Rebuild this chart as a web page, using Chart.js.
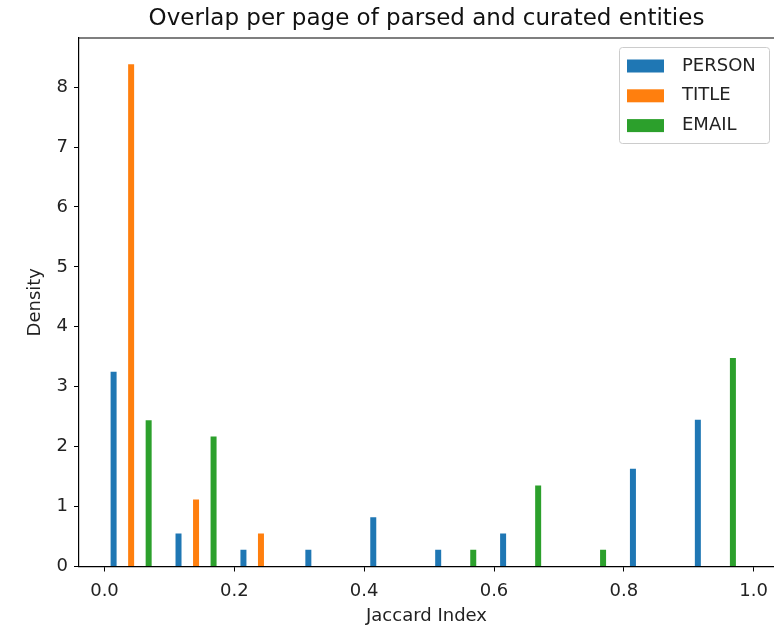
<!DOCTYPE html>
<html>
<head>
<meta charset="utf-8">
<script src="https://cdn.jsdelivr.net/npm/chart.js@4.4.1/dist/chart.umd.min.js"></script>
<style>
  html, body { margin: 0; padding: 0; background: #fff; }
  #wrap { width: 774px; height: 630px; }
</style>
</head>
<body>
<div id="wrap"><canvas id="hist" width="774" height="630"></canvas></div>
<script>
// left edge of each histogram bin (Jaccard index, bins of 0.1)
const binStarts = [0.0, 0.1, 0.2, 0.3, 0.4, 0.5, 0.6, 0.7, 0.8, 0.9];
// density per bin
const personDensity = [3.25, 0.55, 0.28, 0.28, 0.82, 0.28, 0.55, 0, 1.63, 2.45];
const titleDensity  = [8.38, 1.12, 0.55, 0, 0, 0, 0, 0, 0, 0];
const emailDensity  = [2.44, 2.17, 0, 0, 0, 0.28, 1.35, 0.28, 0, 3.48];
const seriesNames = ['PERSON', 'TITLE', 'EMAIL'];
const xTickValues = [0.0, 0.2, 0.4, 0.6, 0.8, 1.0];
const yTickValues = [0, 1, 2, 3, 4, 5, 6, 7, 8];

// matplotlib tab10 colours
const colors = ['#1f77b4', '#ff7f0e', '#2ca02c'];
// where each series sits inside its bin (side by side bars)
const barOffsets = [0.014, 0.041, 0.068];

Chart.defaults.font.family = "'DejaVu Sans', sans-serif";
Chart.defaults.color = '#222';

function buildDataset(idx, values) {
    return {
        label: seriesNames[idx],
        data: values.map((v, i) => ({ x: binStarts[i] + barOffsets[idx], y: v })),
        backgroundColor: colors[idx],
        borderWidth: 0,
        inflateAmount: 0,
        barThickness: 6,
        grouped: false
    };
}

// top spine + legend box like matplotlib
const framePlugin = {
    id: 'frame',
    afterDraw(chart) {
        const ctx = chart.ctx;
        const area = chart.chartArea;
        ctx.save();
        ctx.strokeStyle = '#000';
        ctx.lineWidth = 1.2;
        ctx.beginPath();
        ctx.moveTo(area.left, area.top);
        ctx.lineTo(area.right, area.top);
        ctx.stroke();

        // legend
        const bx = area.right - 155, by = area.top + 9, bw = 150, bh = 96;
        ctx.fillStyle = 'rgba(255,255,255,0.8)';
        ctx.strokeStyle = '#cccccc';
        ctx.lineWidth = 1;
        ctx.beginPath();
        ctx.roundRect(bx + 0.5, by + 0.5, bw, bh, 3);
        ctx.fill();
        ctx.stroke();
        ctx.font = "18px 'DejaVu Sans'";
        ctx.textBaseline = 'middle';
        chart.data.datasets.forEach((ds, i) => {
            const cy = by + 19 + i * 29.8;
            ctx.fillStyle = ds.backgroundColor;
            ctx.fillRect(bx + 8, cy - 6.5, 37, 13);
            ctx.fillStyle = '#222';
            ctx.fillText(ds.label, bx + 63, cy);
        });
        ctx.restore();
    }
};

new Chart(document.getElementById('hist'), {
    type: 'bar',
    data: {
        datasets: [
            buildDataset(0, personDensity),
            buildDataset(1, titleDensity),
            buildDataset(2, emailDensity)
        ]
    },
    options: {
        responsive: false,
        animation: false,
        layout: { padding: 0 },
        scales: {
            x: {
                type: 'linear',
                min: -0.0393,
                max: 1.0313,
                offset: false,
                grid: { offset: false, drawOnChartArea: false, drawTicks: true, tickLength: 5, color: '#000' },
                border: { display: true, color: '#000', width: 1.2 },
                ticks: { font: { size: 18 }, padding: 9, maxRotation: 0, autoSkip: false,
                         callback: v => v.toFixed(1) },
                afterBuildTicks: s => { s.ticks = xTickValues.map(v => ({ value: v })); },
                afterFit: s => { s.height = 63.5; s.paddingLeft = 0; s.paddingRight = 0; },
                title: { display: true, text: 'Jaccard Index', font: { size: 18 },
                         padding: { top: 0, bottom: 2.5 } }
            },
            y: {
                min: 0,
                max: 8.82,
                grid: { drawOnChartArea: false, drawTicks: true, tickLength: 5, color: '#000' },
                border: { display: true, color: '#000', width: 1.2 },
                ticks: { font: { size: 18 }, padding: 6, callback: v => String(v) },
                afterBuildTicks: s => { s.ticks = yTickValues.map(v => ({ value: v })); },
                afterFit: s => { s.width = 79; s.paddingTop = 0; s.paddingBottom = 0; },
                title: { display: true, text: 'Density', font: { size: 18 },
                         padding: { top: 24.2, bottom: 0 } }
            }
        },
        plugins: {
            legend: { display: false },
            tooltip: { enabled: false },
            title: {
                display: true,
                fullSize: false,
                text: 'Overlap per page of parsed and curated entities',
                color: '#111',
                font: { size: 23, weight: 'normal' },
                padding: { top: 5, bottom: 5.4 }
            }
        }
    },
    plugins: [framePlugin]
});
</script>
</body>
</html>
